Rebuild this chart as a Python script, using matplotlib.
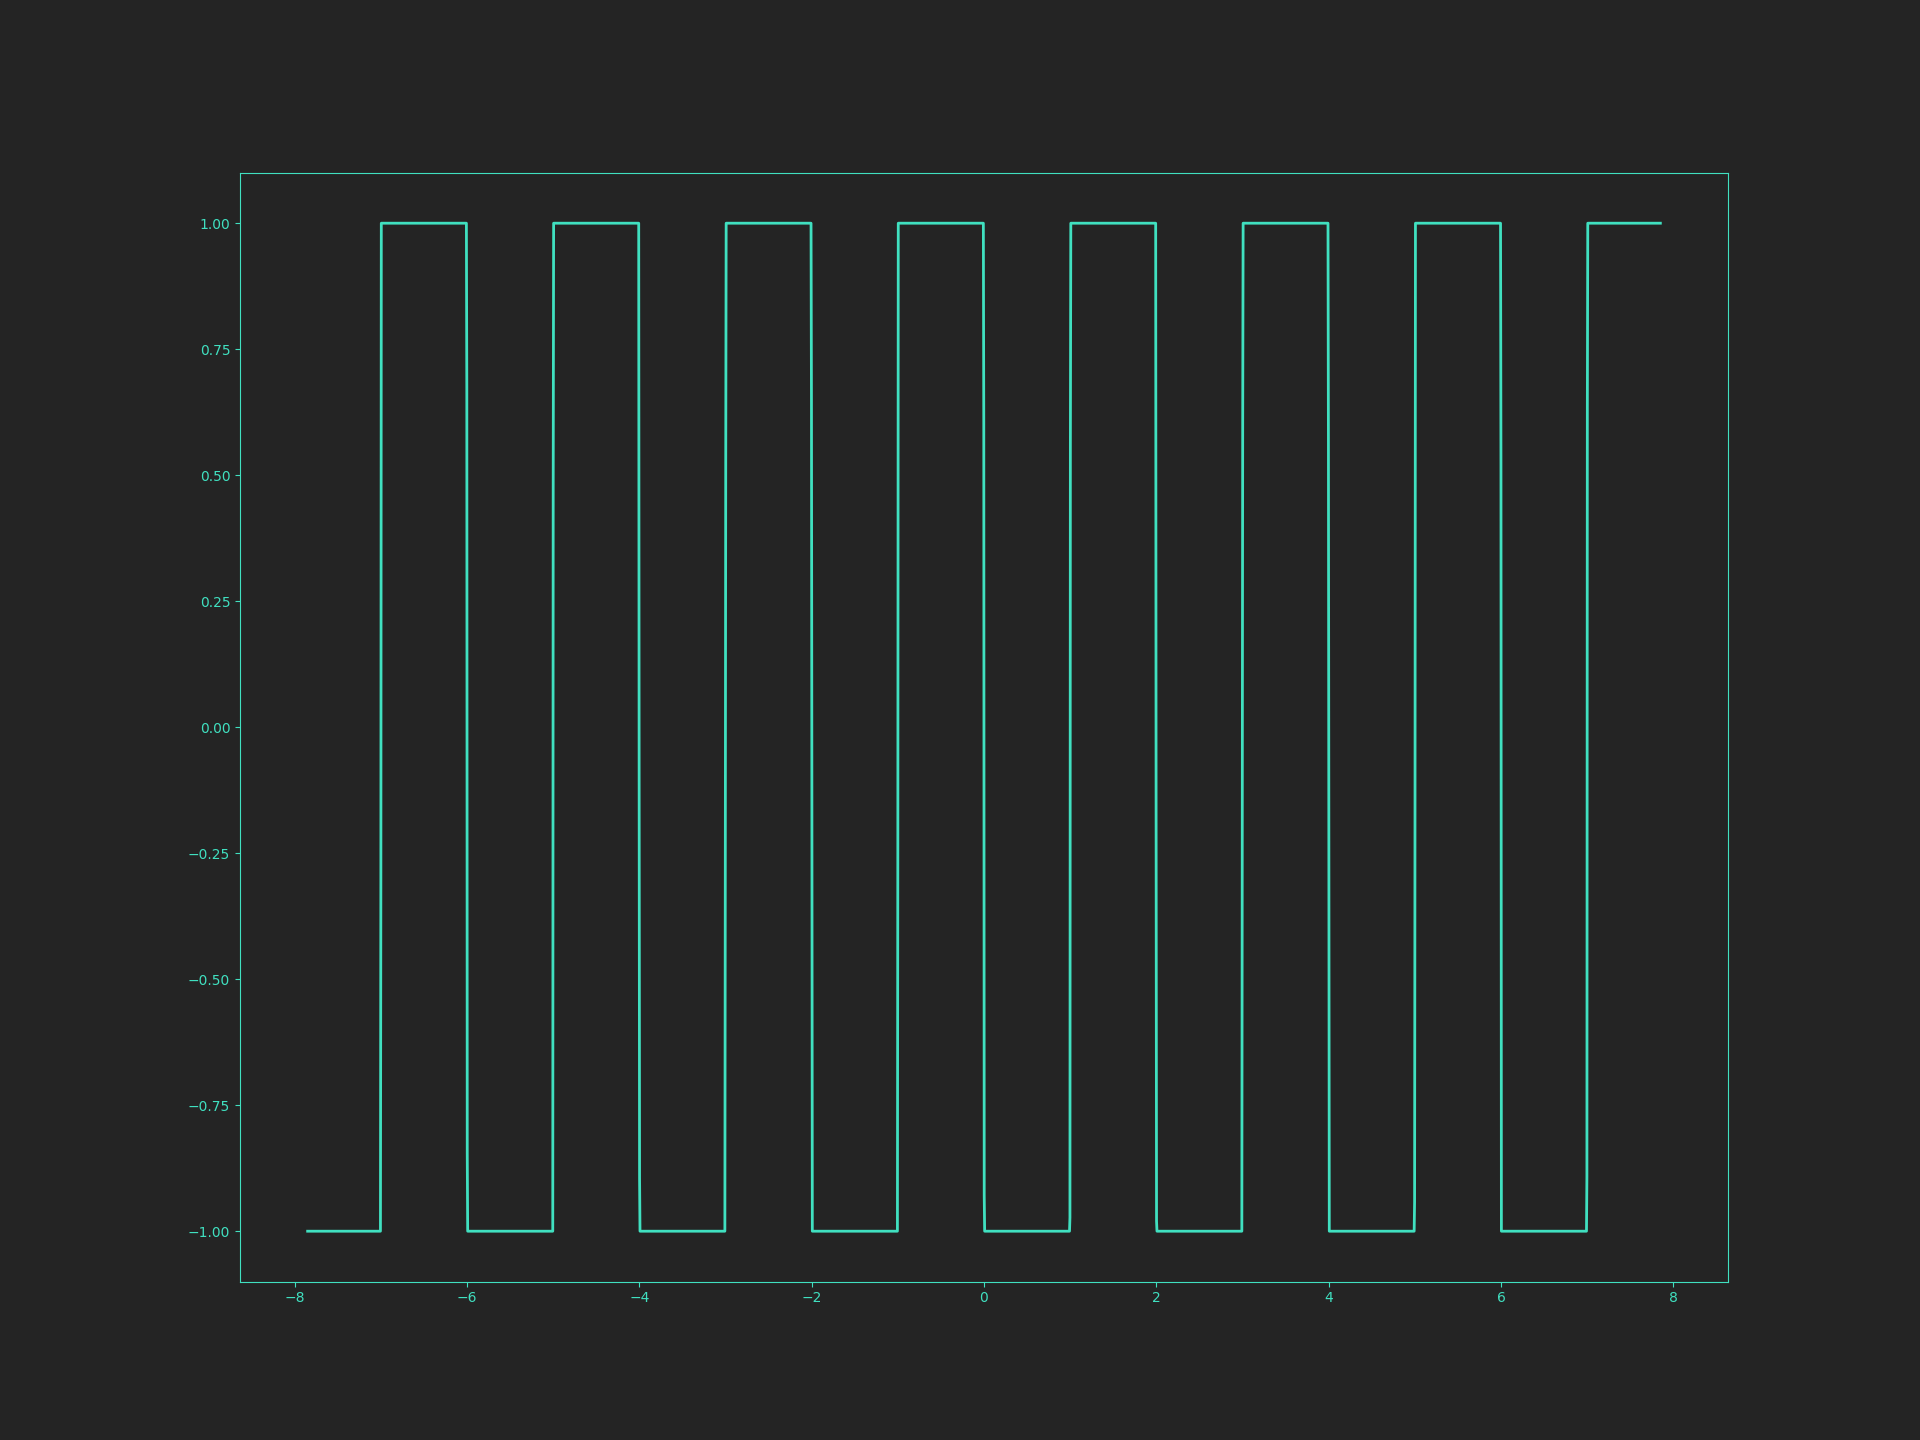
import matplotlib
matplotlib.use('Agg')
import matplotlib.pyplot as plt

BG = '#242424'
FG = '#40e0c0'

# square wave: start/end, edge positions, and the
# few in-between samples that sit on each vertical edge
x_start, x_end = -7.85, 7.85
y_start = -1.0
edges = [-7, -6, -5, -4, -3, -2, -1, 0, 1, 2, 3, 4, 5, 6, 7]
edge_mids = [
    [-0.30],
    [0.675, -0.846],
    [0.477],
    [-0.10, -0.895],
    [-0.27, 0.526],
    [0.646, -0.146],
    [-0.223],
    [0.603, -0.929],
    [-0.973, 0.557],
    [-0.183, -0.98],
    [-0.192, 0.601],
    [0.566, -0.226],
    [-0.942, -0.145],
    [0.521],
    [-0.891, 0.638],
]
step = 0.005  # horizontal gap between samples on an edge

xs = [x_start]
ys = [y_start]
level = y_start
for e, mids in zip(edges, edge_mids):
    vals = [level] + mids + [-level]
    n = len(vals)
    for k, v in enumerate(vals):
        xs.append(e + (k - (n - 1) / 2) * step)
        ys.append(v)
    level = -level
xs.append(x_end)
ys.append(level)

fig, ax = plt.subplots(figsize=(19.2, 14.4), dpi=100)
fig.patch.set_facecolor(BG)
ax.set_facecolor(BG)
ax.plot(xs, ys, color=FG, linewidth=2)

ax.set_xticks([-8, -6, -4, -2, 0, 2, 4, 6, 8])
ax.set_yticks([-1.0, -0.75, -0.5, -0.25, 0.0, 0.25, 0.5, 0.75, 1.0])
ax.tick_params(colors=FG, labelcolor=FG)
for sp in ax.spines.values():
    sp.set_color(FG)

fig.savefig('out.png', facecolor=BG)
